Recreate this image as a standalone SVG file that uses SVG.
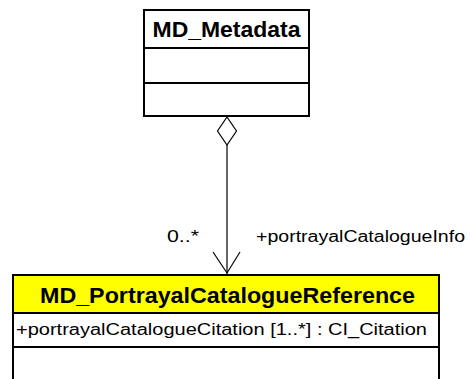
<svg xmlns="http://www.w3.org/2000/svg" width="470" height="379" viewBox="0 0 470 379">
<style>
.box{fill:#fff;stroke:#000;stroke-width:2}
.hdr{stroke:#000;stroke-width:2}
.t{font-family:"Liberation Sans",Arial,sans-serif;fill:#000}
.title{font-weight:bold;font-size:22px}
.sm{font-size:16px}
.conn{stroke:#000;stroke-width:1.2;fill:none}
</style>
<rect width="470" height="379" fill="#fff"/>
<g id="MD_Metadata">
<rect class="box" x="144" y="10" width="165" height="106"/>
<line class="hdr" x1="144" y1="48" x2="309" y2="48"/>
<line class="hdr" x1="144" y1="83" x2="309" y2="83"/>
<text class="t title" x="152.5" y="36.5" textLength="148" lengthAdjust="spacingAndGlyphs">MD_Metadata</text>
</g>
<g id="MD_PortrayalCatalogueReference">
<rect x="13" y="275" width="426" height="120" fill="#fff" stroke="#000" stroke-width="2"/>
<rect x="13" y="275" width="426" height="38" fill="#ffff00" stroke="#000" stroke-width="2"/>
<line class="hdr" x1="13" y1="347" x2="439" y2="347"/>
<text class="t title" x="40" y="302.5" textLength="375" lengthAdjust="spacingAndGlyphs">MD_PortrayalCatalogueReference</text>
<text class="t sm" x="16" y="334.5" textLength="411" lengthAdjust="spacingAndGlyphs">+portrayalCatalogueCitation [1..*] : CI_Citation</text>
</g>
<g id="connectors">
<polygon points="227,117 236.5,131 227,145 217.5,131" fill="#fff" stroke="#000" stroke-width="1.2"/>
<line class="conn" x1="227" y1="145" x2="227" y2="274"/>
<polyline class="conn" points="213,252 227,273 240,252"/>
<text class="t sm" x="167" y="241.5" textLength="32" lengthAdjust="spacingAndGlyphs">0..*</text>
<text class="t sm" x="256" y="241.5" textLength="209" lengthAdjust="spacingAndGlyphs">+portrayalCatalogueInfo</text>
</g>
</svg>
